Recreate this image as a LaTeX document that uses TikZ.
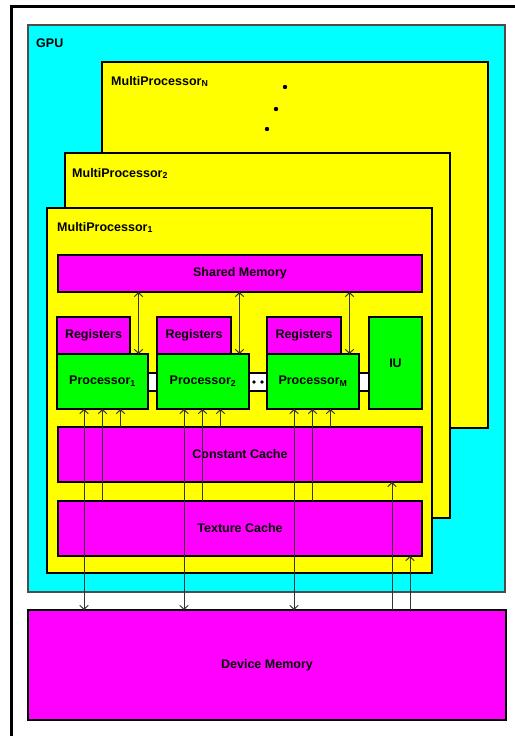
\documentclass[tikz,border=0pt]{standalone}
\usepackage{fontspec}
\setmainfont{Liberation Sans}
\usepackage{xcolor}
\usetikzlibrary{arrows.meta,calc,positioning}
\definecolor{gpucyan}{HTML}{00FFFF}
\definecolor{mpyellow}{HTML}{FFFF00}
\definecolor{memmagenta}{HTML}{FF00FF}
\definecolor{procgreen}{HTML}{00FF00}

\begin{document}
\begin{tikzpicture}[x=1pt,y=-1pt,>={Straight Barb[length=4pt,width=8.5pt]},
  every node/.style={font=\fontsize{12.5}{14}\selectfont\bfseries},
  blk/.style={draw=black,line width=2.8pt,inner sep=0pt,outer sep=0pt,anchor=north west},
  lbl/.style={anchor=base west,inner sep=0pt},
  link/.style={line width=1pt,black!80}]
  \useasboundingbox (0,0) rectangle (514,736);
  \draw[line width=3pt] (11,6) rectangle (540,760);
  % gpu and the stacked multiprocessors
  \node[blk,fill=gpucyan,draw=black!70,line width=2.2pt,minimum width=477pt,minimum height=567pt] (gpu) at (28,25) {};
  \node[lbl] (gpul) at ($(gpu.north west)+(8,22)$) {GPU};
  \node[blk,fill=mpyellow,minimum width=386pt,minimum height=366pt] (mpn) at (102,62) {};
  \node[lbl] (mpnl) at ($(mpn.north west)+(9,23)$) {MultiProcessor\textsubscript{N}};
  \fill (285,87) circle (2.2pt) (276,109) circle (2.2pt) (267,129) circle (2.2pt);
  \node[blk,fill=mpyellow,minimum width=385pt,minimum height=365pt] (mp2) at (65,153) {};
  \node[lbl] (mp2l) at ($(mp2.north west)+(7,24)$) {MultiProcessor\textsubscript{2}};
  \node[blk,fill=mpyellow,minimum width=385pt,minimum height=365pt] (mp1) at (47,208) {};
  \node[lbl] (mp1l) at ($(mp1.north west)+(10,23)$) {MultiProcessor\textsubscript{1}};
  % inside multiprocessor 1
  \node[blk,fill=memmagenta,minimum width=364pt,minimum height=37pt] (shm) at (58,255) {Shared Memory};
  \node[blk,fill=memmagenta,minimum width=73pt,minimum height=37pt] (reg1) at (57,317) {Registers};
  \node[blk,fill=memmagenta,minimum width=74pt,minimum height=37pt] (reg2) at (157,317) {Registers};
  \node[blk,fill=memmagenta,minimum width=74pt,minimum height=37pt] (reg3) at (267,317) {Registers};
  \node[blk,fill=white,line width=2.2pt,minimum width=9pt,minimum height=18pt] (bus1) at (148,373) {};
  \node[blk,fill=white,line width=2.2pt,minimum width=18pt,minimum height=18pt] (bus2) at (249,373) {};
  \node[blk,fill=white,line width=2.2pt,minimum width=10pt,minimum height=18pt] (bus3) at (359,373) {};
  \fill (254,382) circle (1.9pt) (262,382) circle (1.9pt);
  \node[blk,fill=procgreen,minimum width=91pt,minimum height=55pt] (p1) at (57,354) {Processor\textsubscript{1}};
  \node[blk,fill=procgreen,minimum width=92pt,minimum height=55pt] (p2) at (157,354) {Processor\textsubscript{2}};
  \node[blk,fill=procgreen,minimum width=92pt,minimum height=55pt] (pm) at (267,354) {Processor\textsubscript{M}};
  \node[blk,fill=procgreen,minimum width=53pt,minimum height=92pt] (iu) at (369,317) {IU};
  \node[blk,fill=memmagenta,minimum width=364pt,minimum height=55pt] (cc) at (58,427) {Constant Cache};
  \node[blk,fill=memmagenta,minimum width=364pt,minimum height=55pt] (tc) at (58,501) {Texture Cache};
  \node[blk,fill=memmagenta,minimum width=478pt,minimum height=110pt] (dev) at (28,610) {Device Memory};
  % connectors
  \foreach \p in {p1,p2,pm}{
    \coordinate (\p-dm) at ($(\p.south west)+(27,0)$);
    \coordinate (\p-tc) at ($(\p.south west)+(45.5,0)$);
    \coordinate (\p-cc) at ($(\p.south west)+(63.5,0)$);
    \coordinate (\p-sm) at ($(\p.north east)+(-9.5,0)$);
    \draw[link,<->] (\p-dm |- dev.north) -- (\p-dm);
    \draw[link,->] (\p-tc |- tc.north) -- (\p-tc);
    \draw[link,->] (\p-cc |- cc.north) -- (\p-cc);
    \draw[link,<->] (\p-sm |- shm.south) -- (\p-sm);
  }
  \coordinate (dmc) at ($(dev.north west)+(364,0)$);
  \coordinate (dmt) at ($(dev.north west)+(382,0)$);
  \draw[link,->] (dmc) -- (dmc |- cc.south);
  \draw[link,->] (dmt) -- (dmt |- tc.south);
\end{tikzpicture}
\end{document}
